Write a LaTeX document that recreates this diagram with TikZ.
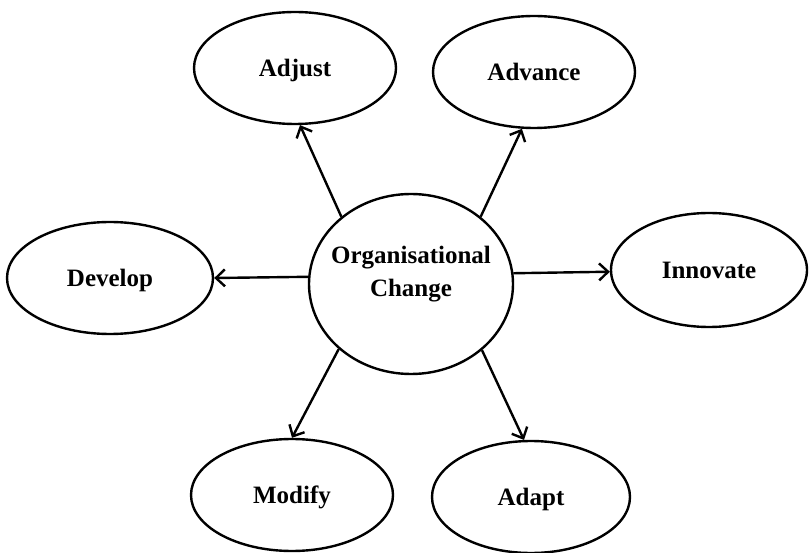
\documentclass[tikz,border=0pt]{standalone}
\usepackage{fontspec}
\setmainfont{Liberation Serif}
\usetikzlibrary{shapes.geometric,arrows.meta}
\begin{document}
\begin{tikzpicture}[x=1pt,y=-1pt,
  every node/.style={line width=2.4pt},
  leaf/.style={draw, ellipse, inner sep=0pt, minimum width=202pt, minimum height=112pt,
    font=\fontsize{25}{33}\selectfont\bfseries, text height=17pt, text depth=0pt},
  hub/.style={draw, ellipse, inner sep=0pt, minimum width=204pt, minimum height=180pt},
  hubtext/.style={font=\fontsize{25}{33}\selectfont\bfseries, align=center, inner sep=0pt},
  arr/.style={line width=2.4pt, -{Straight Barb[length=9pt,width=17pt,line width=2.4pt]}}]
\useasboundingbox (0,0) rectangle (809,553);
\node[hub, label={[hubtext, yshift=10pt]center:{Organisational\\Change}}] (oc) at (411,284) {};
\node[leaf] (adjust)   at (295,68)  {Adjust};
\node[leaf] (advance)  at (534,72)  {Advance};
\node[leaf, minimum width=206pt] (develop)  at (110,278) {Develop};
\node[leaf, minimum width=196pt, minimum height=114pt] (innovate) at (709,270) {Innovate};
\node[leaf] (modify)   at (292,495) {Modify};
\node[leaf, minimum width=198pt] (adapt)    at (531,497) {Adapt};
\draw[arr] (oc.136.5) -- (adjust.275);
\draw[arr] (oc.44.2)  -- (advance.258.3);
\draw[arr] (oc.176.5) -- (develop.east);
\draw[arr] (oc.6.7)   -- (innovate.181.2);
\draw[arr] (oc.222.6) -- (modify.north);
\draw[arr] (oc.317)   -- (adapt.97.7);
\end{tikzpicture}
\end{document}
